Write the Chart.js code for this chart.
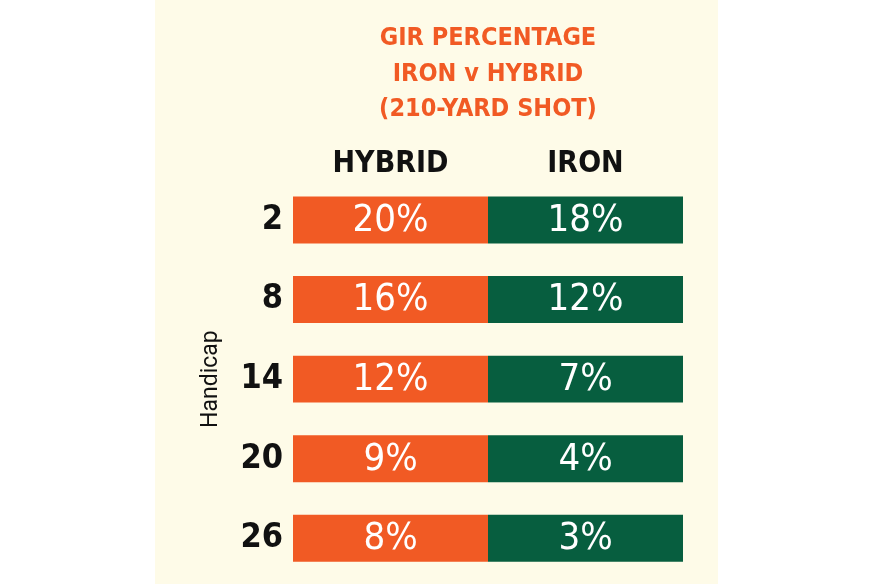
<!DOCTYPE html>
<html><head><meta charset="utf-8">
<script src="https://cdn.jsdelivr.net/npm/chart.js@4.4.1/dist/chart.umd.min.js"></script>
<style>html,body{margin:0;padding:0;background:#fff;}#wrap{width:876px;height:584px;}</style>
</head><body><div id="wrap"><canvas id="c" width="876" height="584"></canvas></div>
<script>
const handicaps = ['2', '8', '14', '20', '26'];
const columns = ['HYBRID', 'IRON'];
const hybridGir = [20, 16, 12, 9, 8];
const ironGir = [18, 12, 7, 4, 3];
const titleLines = ['GIR PERCENTAGE', 'IRON v HYBRID', '(210-YARD SHOT)'];
const yTitle = 'Handicap';

const NARROW = "'Liberation Sans Narrow', 'DejaVu Sans Condensed', sans-serif";
const ORANGE = '#F15A24';
const GREEN = '#075E3F';
const CREAM = '#FEFBE8';

const panel = {
  id: 'panel',
  beforeDraw(chart) {
    const ctx = chart.ctx;
    ctx.save();
    ctx.fillStyle = '#ffffff';
    ctx.fillRect(0, 0, chart.width, chart.height);
    ctx.fillStyle = CREAM;
    ctx.fillRect(155, 0, 563, chart.height);
    ctx.restore();
  }
};

const cellLabels = {
  id: 'cellLabels',
  afterDatasetsDraw(chart) {
    const ctx = chart.ctx;
    ctx.save();
    ctx.fillStyle = '#ffffff';
    ctx.font = "normal 38px " + NARROW;
    ctx.textAlign = 'center';
    ctx.textBaseline = 'middle';
    chart.data.datasets.forEach((ds, i) => {
      chart.getDatasetMeta(i).data.forEach((bar, j) => {
        const p = bar.getCenterPoint();
        ctx.fillText(ds.gir[j] + '%', p.x, p.y + 1);
      });
    });
    ctx.restore();
  }
};

new Chart(document.getElementById('c'), {
  type: 'bar',
  data: {
    labels: handicaps,
    datasets: [
      { label: columns[0], gir: hybridGir, data: handicaps.map(() => [0, 1]), backgroundColor: ORANGE, borderWidth: 0 },
      { label: columns[1], gir: ironGir, data: handicaps.map(() => [1, 2]), backgroundColor: GREEN, borderWidth: 0 }
    ]
  },
  options: {
    indexAxis: 'y',
    responsive: false,
    animation: false,
    layout: { padding: { left: 190, right: 193, top: 0, bottom: 6 } },
    datasets: { bar: { grouped: false, categoryPercentage: 1, barPercentage: 0.59 } },
    plugins: {
      legend: { display: false },
      tooltip: { enabled: false },
      title: {
        display: true, fullSize: false, text: titleLines, color: ORANGE,
        font: { family: NARROW, size: 25, weight: 'bold', lineHeight: 1.42 },
        padding: { top: 21, bottom: 0 }
      }
    },
    scales: {
      x: {
        type: 'linear', position: 'top', min: 0, max: 2,
        grid: { display: false, drawTicks: false }, border: { display: false },
        afterBuildTicks: s => { s.ticks = columns.map((c, i) => ({ value: i + 0.5 })); },
        afterFit: s => { s.height = 52.75; },
        ticks: {
          callback: v => columns[Math.floor(v)],
          color: '#111', padding: -2, maxRotation: 0, autoSkip: false,
          font: { family: NARROW, size: 30, weight: 'bold', lineHeight: 1.2 }
        }
      },
      y: {
        type: 'category',
        grid: { display: false, drawTicks: false }, border: { display: false },
        afterFit: s => { s.width = 103; s.paddingTop = 0; s.paddingBottom = 0; },
        ticks: { color: '#111', padding: 10, font: { family: NARROW, size: 34, weight: 'bold' } },
        title: { display: true, text: yTitle, color: '#111', padding: { top: 7, bottom: 0 }, font: { family: 'Roboto', size: 23 } }
      }
    }
  },
  plugins: [panel, cellLabels]
});
</script></body></html>
